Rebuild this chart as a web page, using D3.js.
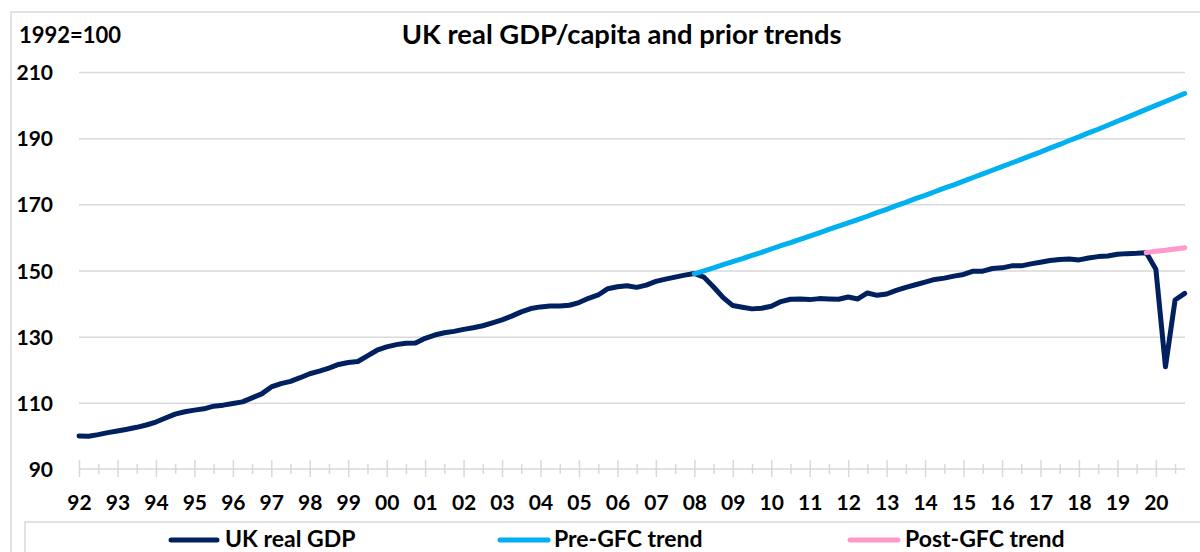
<!DOCTYPE html>
<html>
<head>
<meta charset="utf-8">
<script src="https://cdn.jsdelivr.net/npm/d3@7"></script>
<style>
  html, body { margin: 0; padding: 0; background: #fff; }
  svg { display: block; font-family: Lato, "Open Sans", sans-serif; font-weight: 700; }
</style>
</head>
<body>
<svg id="chart" width="1200" height="552"></svg>
<script>
// ---- Data (quarterly, 1992Q1 .. 2020Q4), index 1992=100 ----
const startYear = 1992;
const yearLabels = ["92","93","94","95","96","97","98","99","00","01","02","03","04","05","06","07","08","09","10","11","12","13","14","15","16","17","18","19","20"];
const yTicks = [90, 110, 130, 150, 170, 190, 210];

const ukGDP = [
  100.0, 99.9, 100.4, 101.0, 101.5, 102.0, 102.6, 103.3,
  104.2, 105.4, 106.6, 107.3, 107.8, 108.2, 109.0, 109.3,
  109.8, 110.3, 111.5, 112.7, 114.8, 115.8, 116.5, 117.6,
  118.8, 119.6, 120.5, 121.6, 122.2, 122.5, 124.2, 125.9,
  126.9, 127.6, 128.0, 128.1, 129.5, 130.5, 131.2, 131.6,
  132.2, 132.7, 133.3, 134.2, 135.1, 136.2, 137.5, 138.5,
  139.0, 139.3, 139.3, 139.5, 140.3, 141.6, 142.6, 144.5,
  145.1, 145.4, 144.9, 145.6, 146.7, 147.4, 148.0, 148.6,
  149.1, 148.0, 145.0, 141.8, 139.4, 138.9, 138.4, 138.6,
  139.2, 140.6, 141.3, 141.4, 141.2, 141.5, 141.4, 141.3,
  142.0, 141.4, 143.2, 142.5, 142.9, 144.0, 144.9, 145.7,
  146.5, 147.3, 147.7, 148.3, 148.8, 149.8, 149.8, 150.6,
  150.8, 151.4, 151.4, 152.0, 152.5, 153.0, 153.3, 153.5,
  153.2, 153.8, 154.2, 154.4, 154.9, 155.1, 155.2, 155.4,
  150.4, 120.9, 141.1, 143.1
];
// Pre-GFC trend: from 2008Q1 (quarter index 64) to 2020Q4
const preGFCStart = 64;
const preGFC = [
  149.0, 149.9, 150.8, 151.8, 152.7, 153.6, 154.6, 155.5,
  156.5, 157.5, 158.4, 159.4, 160.4, 161.4, 162.4, 163.4,
  164.4, 165.4, 166.4, 167.5, 168.5, 169.6, 170.6, 171.7,
  172.7, 173.8, 174.9, 175.9, 177.0, 178.1, 179.2, 180.3,
  181.4, 182.5, 183.6, 184.7, 185.8, 187.0, 188.1, 189.3,
  190.4, 191.6, 192.7, 193.9, 195.1, 196.3, 197.5, 198.7,
  199.9, 201.1, 202.3, 203.5
];
// Post-GFC trend: from 2019Q4 (quarter index 111) to 2020Q4
const postGFCStart = 111;
const postGFC = [155.4, 155.8, 156.1, 156.5, 156.9];

const seriesNames = ["UK real GDP", "Pre-GFC trend", "Post-GFC trend"];
const seriesColors = ["#002060", "#00b0f0", "#ff99cc"];

// ---- Layout ----
const svg = d3.select("#chart");
const nQ = ukGDP.length;
const x = d3.scaleLinear().domain([0, nQ - 1]).range([79, 1184.7]);
const y = d3.scaleLinear().domain([90, 210]).range([469, 72]);
const gridColor = "#d9d9d9";

// outer chart border
svg.append("rect").attr("x", 11).attr("y", 12).attr("width", 1220).attr("height", 600)
  .attr("fill", "none").attr("stroke", gridColor).attr("stroke-width", 1.5);

// gridlines
svg.append("g")
  .attr("transform", "translate(79,0)")
  .call(d3.axisLeft(y).tickValues(yTicks.filter(v => v !== 90)).tickSize(-(1185 - 79)).tickFormat(""))
  .call(g => g.select(".domain").remove())
  .call(g => g.selectAll("line").attr("stroke", gridColor).attr("stroke-width", 1.5));

// y axis labels
svg.append("g")
  .attr("transform", "translate(53,0)")
  .call(d3.axisLeft(y).tickValues(yTicks).tickSize(0).tickPadding(0))
  .call(g => g.select(".domain").remove())
  .call(g => g.selectAll("text")
    .attr("font-family", "Lato, sans-serif").attr("font-weight", 700)
    .attr("font-size", 21).attr("fill", "#000").attr("dy", "0.36em"));

// x axis: minor ticks (half-years)
const minorTicks = d3.range(2, nQ, 4);
svg.append("g")
  .attr("transform", `translate(0,${y(90)})`)
  .call(d3.axisBottom(x).tickValues(minorTicks).tickSize(5).tickFormat(""))
  .call(g => g.select(".domain").remove())
  .call(g => g.selectAll("line").attr("y1", -5).attr("stroke", gridColor).attr("stroke-width", 1.5));

// x axis: major ticks (years) + labels
const yearIdx = yearLabels.map((d, i) => i * 4);
svg.append("g")
  .attr("transform", `translate(0,${y(90)})`)
  .call(d3.axisBottom(x).tickValues(yearIdx).tickSize(8).tickFormat((d, i) => yearLabels[i]))
  .call(g => g.select(".domain").attr("d", `M${x(0)},0H1185`).attr("stroke", gridColor).attr("stroke-width", 1.5))
  .call(g => g.selectAll("line").attr("y1", -9).attr("stroke", gridColor).attr("stroke-width", 1.5))
  .call(g => g.selectAll("text")
    .attr("font-family", "Lato, sans-serif").attr("font-weight", 700)
    .attr("font-size", 21).attr("fill", "#000").attr("y", 41).attr("dy", 0));

// lines
const line = d3.line().x(d => x(d.i)).y(d => y(d.v));
const gdpPts = ukGDP.map((v, i) => ({ i, v }));
const prePts = preGFC.map((v, k) => ({ i: preGFCStart + k, v }));
const postPts = postGFC.map((v, k) => ({ i: postGFCStart + k, v }));
[gdpPts, prePts, postPts].forEach((pts, k) => {
  svg.append("path").datum(pts).attr("d", line)
    .attr("fill", "none").attr("stroke", seriesColors[k]).attr("stroke-width", 5)
    .attr("stroke-linejoin", "round").attr("stroke-linecap", "round");
});

// titles
svg.append("text").attr("x", 19).attr("y", 43).attr("font-size", 22).attr("fill", "#000").text("1992=100");
svg.append("text").attr("x", 621.7).attr("y", 44).attr("text-anchor", "middle")
  .attr("font-size", 27.4).attr("fill", "#000").text("UK real GDP/capita and prior trends");

// legend
svg.append("rect").attr("x", 25).attr("y", 522).attr("width", 1200).attr("height", 60)
  .attr("fill", "none").attr("stroke", gridColor).attr("stroke-width", 1.5);
const legendPos = [
  { x1: 171, x2: 217, tx: 225 },
  { x1: 500, x2: 548, tx: 554 },
  { x1: 850, x2: 898, tx: 905 }
];
legendPos.forEach((p, k) => {
  svg.append("line").attr("x1", p.x1).attr("x2", p.x2).attr("y1", 540).attr("y2", 540)
    .attr("stroke", seriesColors[k]).attr("stroke-width", 5).attr("stroke-linecap", "round");
  svg.append("text").attr("x", p.tx).attr("y", 547).attr("font-size", 23).attr("fill", "#000")
    .text(seriesNames[k]);
});
</script>
</body>
</html>
